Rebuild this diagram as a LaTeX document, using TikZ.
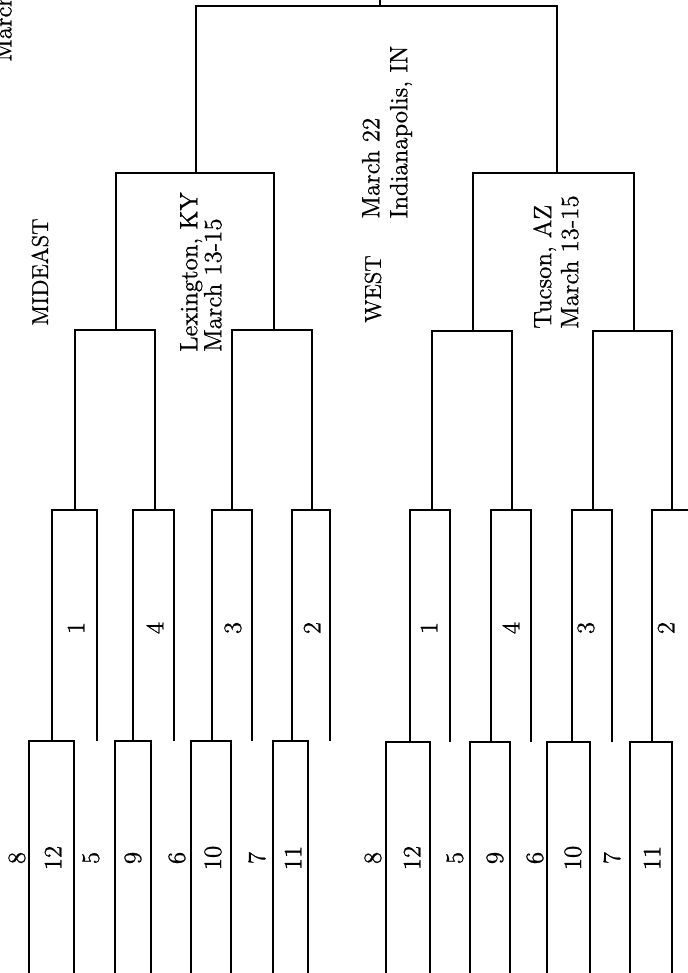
\documentclass[tikz,border=0pt]{standalone}
\usepackage{fontspec}
\setmainfont{Latin Modern Roman}[FakeBold=0.8]
\tikzset{
    bracket/.style={line width=0.75pt},
    seed/.style={rotate=90, inner sep=0pt, font=\fontsize{12.5}{14}\selectfont},
    region/.style={rotate=90, inner sep=0pt, font=\fontsize{11.5}{14}\selectfont},
    site/.style={rotate=90, inner sep=0pt, align=left, font=\fontsize{12.5}{13.5}\selectfont}
}
\begin{document}
\begin{tikzpicture}[x=0.5pt, y=-0.5pt]
        \useasboundingbox (0,0) rectangle (688,973);
        \clip (0,0) rectangle (688,973);

        % MIDEAST first round
        \draw[bracket] (29,990) |- (74,741) -- (74,990);
        \draw[bracket] (115,990) |- (151,741) -- (151,990);
        \draw[bracket] (191,990) |- (231,741) -- (231,990);
        \draw[bracket] (273,990) |- (308,741) -- (308,990);
        % MIDEAST second round
        \draw[bracket] (52,741) |- (97,510) -- (97,741);
        \draw[bracket] (133,741) |- (174,510) -- (174,741);
        \draw[bracket] (212,741) |- (252,510) -- (252,741);
        \draw[bracket] (292,741) |- (330,510) -- (330,741);
        % MIDEAST regional
        \draw[bracket] (75,510) |- (155,330) -- (155,510);
        \draw[bracket] (232,510) |- (312,330) -- (312,510);
        \draw[bracket] (116,330) |- (274,173) -- (274,330);

        % WEST first round
        \draw[bracket] (386,990) |- (430,742) -- (430,990);
        \draw[bracket] (470,990) |- (510,742) -- (510,990);
        \draw[bracket] (547,990) |- (590,742) -- (590,990);
        \draw[bracket] (630,990) |- (672,742) -- (672,990);
        % WEST second round
        \draw[bracket] (410,742) |- (450,510) -- (450,742);
        \draw[bracket] (491,742) |- (531,510) -- (531,742);
        \draw[bracket] (572,742) |- (612,510) -- (612,742);
        \draw[bracket] (652,742) |- (692,510) -- (692,742);
        % WEST regional
        \draw[bracket] (432,510) |- (512,331) -- (512,510);
        \draw[bracket] (593,510) |- (672,331) -- (672,510);
        \draw[bracket] (473,331) |- (634,173) -- (634,331);

        % National semifinal
        \draw[bracket] (196,173) |- (557,6) -- (557,173);
        \draw[bracket] (380,6) -- (380,-10);

        % Seeds, MIDEAST
        \node[seed] (m8) at (17,858) {8};
        \node[seed] (m12) at (53,858) {12};
        \node[seed] (m5) at (91,858) {5};
        \node[seed] (m9) at (133,858) {9};
        \node[seed] (m6) at (177,858) {6};
        \node[seed] (m10) at (213,858) {10};
        \node[seed] (m7) at (257,858) {7};
        \node[seed] (m11) at (293,858) {11};
        \node[seed] (m1) at (76,628) {1};
        \node[seed] (m4) at (155,628) {4};
        \node[seed] (m3) at (233,628) {3};
        \node[seed] (m2) at (312,628) {2};

        % Seeds, WEST
        \node[seed] (w8) at (373,858) {8};
        \node[seed] (w12) at (412,858) {12};
        \node[seed] (w5) at (455,858) {5};
        \node[seed] (w9) at (495,858) {9};
        \node[seed] (w6) at (535,858) {6};
        \node[seed] (w10) at (573,858) {10};
        \node[seed] (w7) at (612,858) {7};
        \node[seed] (w11) at (652,858) {11};
        \node[seed] (w1) at (429,628) {1};
        \node[seed] (w4) at (511,628) {4};
        \node[seed] (w3) at (586,628) {3};
        \node[seed] (w2) at (666,628) {2};

        % Regions and sites
        \node[region] (mideast) at (40,272) {MIDEAST};
        \node[region] (west) at (373,289) {WEST};
        \node[site, font=\fontsize{12.5}{12}\selectfont] (lexington) at (201,272) {Lexington, KY\\March 13-15};
        \node[site] (tucson) at (556,262) {Tucson, AZ\\March 13-15};
        \node[site, font=\fontsize{12.5}{14}\selectfont] (indy) at (387,132) {March 22\\Indianapolis, IN};
        \node[site, anchor=south west] (topdate) at (12,62) {March};
    \end{tikzpicture}
\end{document}
